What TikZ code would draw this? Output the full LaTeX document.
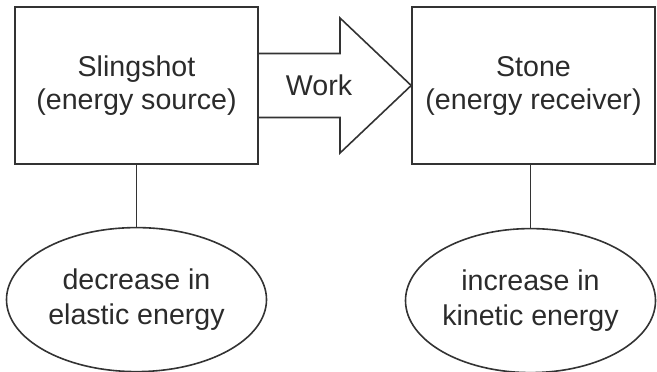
\documentclass[tikz,border=0pt]{standalone}
\usepackage{fontspec}
\setmainfont{Liberation Sans}
\usepackage{tikz}
\usetikzlibrary{positioning,calc,shapes.geometric}
\usepackage{xcolor}
\definecolor{egInk}{HTML}{2B2B2B}
\definecolor{egLine}{HTML}{333333}
\tikzset{
  agentbox/.style  = {draw=egLine, line width=0.8pt, fill=white, align=center,
                      minimum width=121.5pt, minimum height=78.5pt, inner sep=0pt,
                      text=egInk, font=\fontsize{14.3}{16.5}\selectfont},
  changebox/.style = {ellipse, draw=egLine, line width=0.8pt, align=center,
                      minimum height=72pt, inner sep=0pt, text=egInk,
                      font=\fontsize{14.3}{17.5}\selectfont},
  fatarrow/.style  = {draw=egLine, line width=0.8pt, line join=miter},
  tie/.style       = {draw=egLine, line width=0.8pt},
  lbl/.style       = {text=egInk, font=\fontsize{14.3}{16.5}\selectfont},
}
\begin{document}
\begin{tikzpicture}[x=0.5pt, y=-0.5pt]
  \useasboundingbox (0,0) rectangle (657,371);

  \node[agentbox] (src) at (136.5,85.5) {Slingshot\\(energy source)};
  \node[agentbox] (dst) at (533.5,85.5) {Stone\\(energy receiver)};

  \node[changebox, minimum width=130pt, below=31pt of src] (lost)
    {decrease in\\elastic energy};
  \node[changebox, minimum width=125pt, below=31.5pt of dst, xshift=-1.5pt] (gain)
    {increase in\\kinetic energy};

  % work arrow between the two boxes
  \coordinate (neck) at (340,85.5);
  \draw[fatarrow] ($(src.east)+(0,-32)$) -- ($(neck)+(0,-32)$) -- ($(neck)+(0,-67.5)$)
    -- (dst.west) -- ($(neck)+(0,67.5)$) -- ($(neck)+(0,32)$) -- ($(src.east)+(0,32)$);
  \node[lbl] (work) at (319,85.5) {Work};

  \draw[tie] (src.south) -- (lost.north);
  \draw[tie] (gain.north) -- (gain.north |- dst.south);
\end{tikzpicture}
\end{document}
